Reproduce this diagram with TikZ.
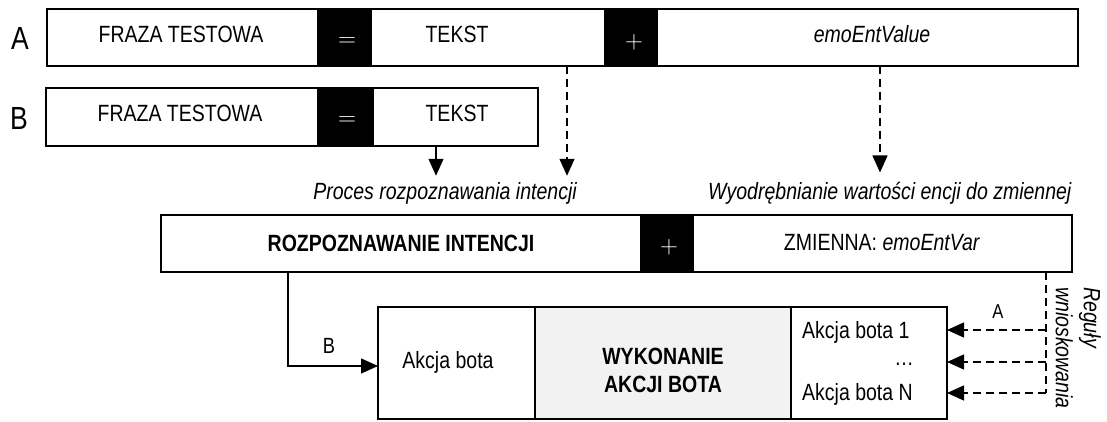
\documentclass[tikz,border=0pt]{standalone}
\usepackage{fontspec}
\setmainfont{Liberation Sans}[FakeStretch=0.83]
\usetikzlibrary{arrows.meta}
\definecolor{lightfill}{RGB}{242,242,242}
\begin{document}
\begin{tikzpicture}[x=1pt,y=-1pt,
  seg/.style={draw, line width=2.3pt, anchor=north west, inner sep=0pt, outer sep=0pt},
  blk/.style={seg, fill=black},
  txt/.style={font=\fontsize{23.5}{28}\selectfont, inner sep=0pt, anchor=base},
  itxt/.style={txt, font=\fontsize{23.5}{28}\selectfont\itshape},
  btxt/.style={txt, font=\fontsize{23.5}{28}\selectfont\bfseries},
  sym/.style={text=white, font=\fontsize{23}{23}\selectfont, inner sep=0pt, anchor=center},
  big/.style={font=\fontsize{32}{32}\selectfont, inner sep=0pt, anchor=center},
  lab/.style={font=\fontsize{22}{22}\selectfont, inner sep=0pt, anchor=center},
  conn/.style={line width=1.3pt, -{Triangle[length=17pt,width=15pt]}},
  dconn/.style={conn, dash pattern=on 8pt off 5pt},
  dline/.style={line width=1.3pt, dash pattern=on 8pt off 5pt}
]
\useasboundingbox (0,0) rectangle (1107,422);

% Row A
\node[big] (la) at (20,38) {A};
\node[seg, minimum width=271pt, minimum height=57pt] (a1) at (47,9) {};
\node[blk, minimum width=53pt, minimum height=57pt] (a2) at (318,9) {};
\node[seg, minimum width=234pt, minimum height=57pt] (a3) at (371,9) {};
\node[blk, minimum width=52pt, minimum height=57pt] (a4) at (605,9) {};
\node[seg, minimum width=421pt, minimum height=57pt] (a5) at (657,9) {};
\node[txt] (ta1) at (181,43) {FRAZA TESTOWA};
\node[sym] (sa2) at (347,42) {$=$};
\node[txt] (ta3) at (457,43) {TEKST};
\node[sym] (sa4) at (634,42) {$+$};
\node[itxt] (ta5) at (872,43) {emoEntValue};

% Row B
\node[big] (lb) at (19,118) {B};
\node[seg, minimum width=272pt, minimum height=58pt] (b1) at (46,88) {};
\node[blk, minimum width=55pt, minimum height=58pt] (b2) at (318,88) {};
\node[seg, minimum width=165pt, minimum height=58pt] (b3) at (373,88) {};
\node[txt] (tb1) at (180,122) {FRAZA TESTOWA};
\node[sym] (sb2) at (347,121) {$=$};
\node[txt] (tb3) at (457,122) {TEKST};

% Middle captions
\node[itxt] (proc) at (445,200) {Proces rozpoznawania intencji};
\node[itxt, anchor=base west] (wyod) at (708,200) {Wyodrębnianie wartości encji do zmiennej};

% Row C
\node[seg, minimum width=480pt, minimum height=57pt] (c1) at (161,215) {};
\node[blk, minimum width=52pt, minimum height=57pt] (c2) at (641,215) {};
\node[seg, minimum width=379pt, minimum height=57pt] (c3) at (693,215) {};
\node[btxt] (tc1) at (401,251) {ROZPOZNAWANIE INTENCJI};
\node[sym] (sc2) at (669,247) {$+$};
\node[txt] (tc3) at (882,250) {ZMIENNA: \textit{emoEntVar}};

% Row D
\node[seg, minimum width=157pt, minimum height=112pt] (d1) at (378,307) {};
\node[seg, fill=lightfill, minimum width=256pt, minimum height=112pt] (d2) at (535,307) {};
\node[seg, minimum width=156pt, minimum height=112pt] (d3) at (791,307) {};
\node[txt] (td1) at (448,368) {Akcja bota};
\node[btxt, align=center, anchor=center] (td2) at (663,370.5) {WYKONANIE\\AKCJI BOTA};
\node[txt, anchor=base west] (td3a) at (802,338) {Akcja bota 1};
\node[txt] (td3b) at (904,365) {…};
\node[txt, anchor=base west] (td3c) at (802,400) {Akcja bota N};

% Rules text
\node[itxt, rotate=-90, align=left, anchor=north west, font=\fontsize{23.5}{28}\selectfont\itshape] (rules) at (1101,287) {Reguły\\wnioskowania};

% Connectors top
\draw[conn, shorten >=7pt] (b3.south -| 436,0) -- (proc.north -| 436,0);
\draw[dconn, shorten >=7pt] (a3.south -| 567,0) -- (proc.north -| 567,0);
\draw[dconn, shorten >=10pt] (a5.south -| 880,0) -- (wyod.north -| 880,0);

% Connector B
\draw[conn] (c1.south -| 288,0) |- ([yshift=-3pt]d1.west);
\node[lab] (lblb) at (329,346) {B};

% Connectors A (rules)
\coordinate (r1) at (1046,330);
\coordinate (r2) at (1046,362);
\coordinate (r3) at (1046,393);
\draw[dline] (c3.south -| r3) -- (r3);
\draw[dconn] (r1) -- (r1 -| d3.east);
\draw[dconn] (r2) -- (r2 -| d3.east);
\draw[dconn] (r3) -- (r3 -| d3.east);
\node[lab, font=\fontsize{20}{20}\selectfont] (lbla) at (998,312) {A};
\end{tikzpicture}
\end{document}
